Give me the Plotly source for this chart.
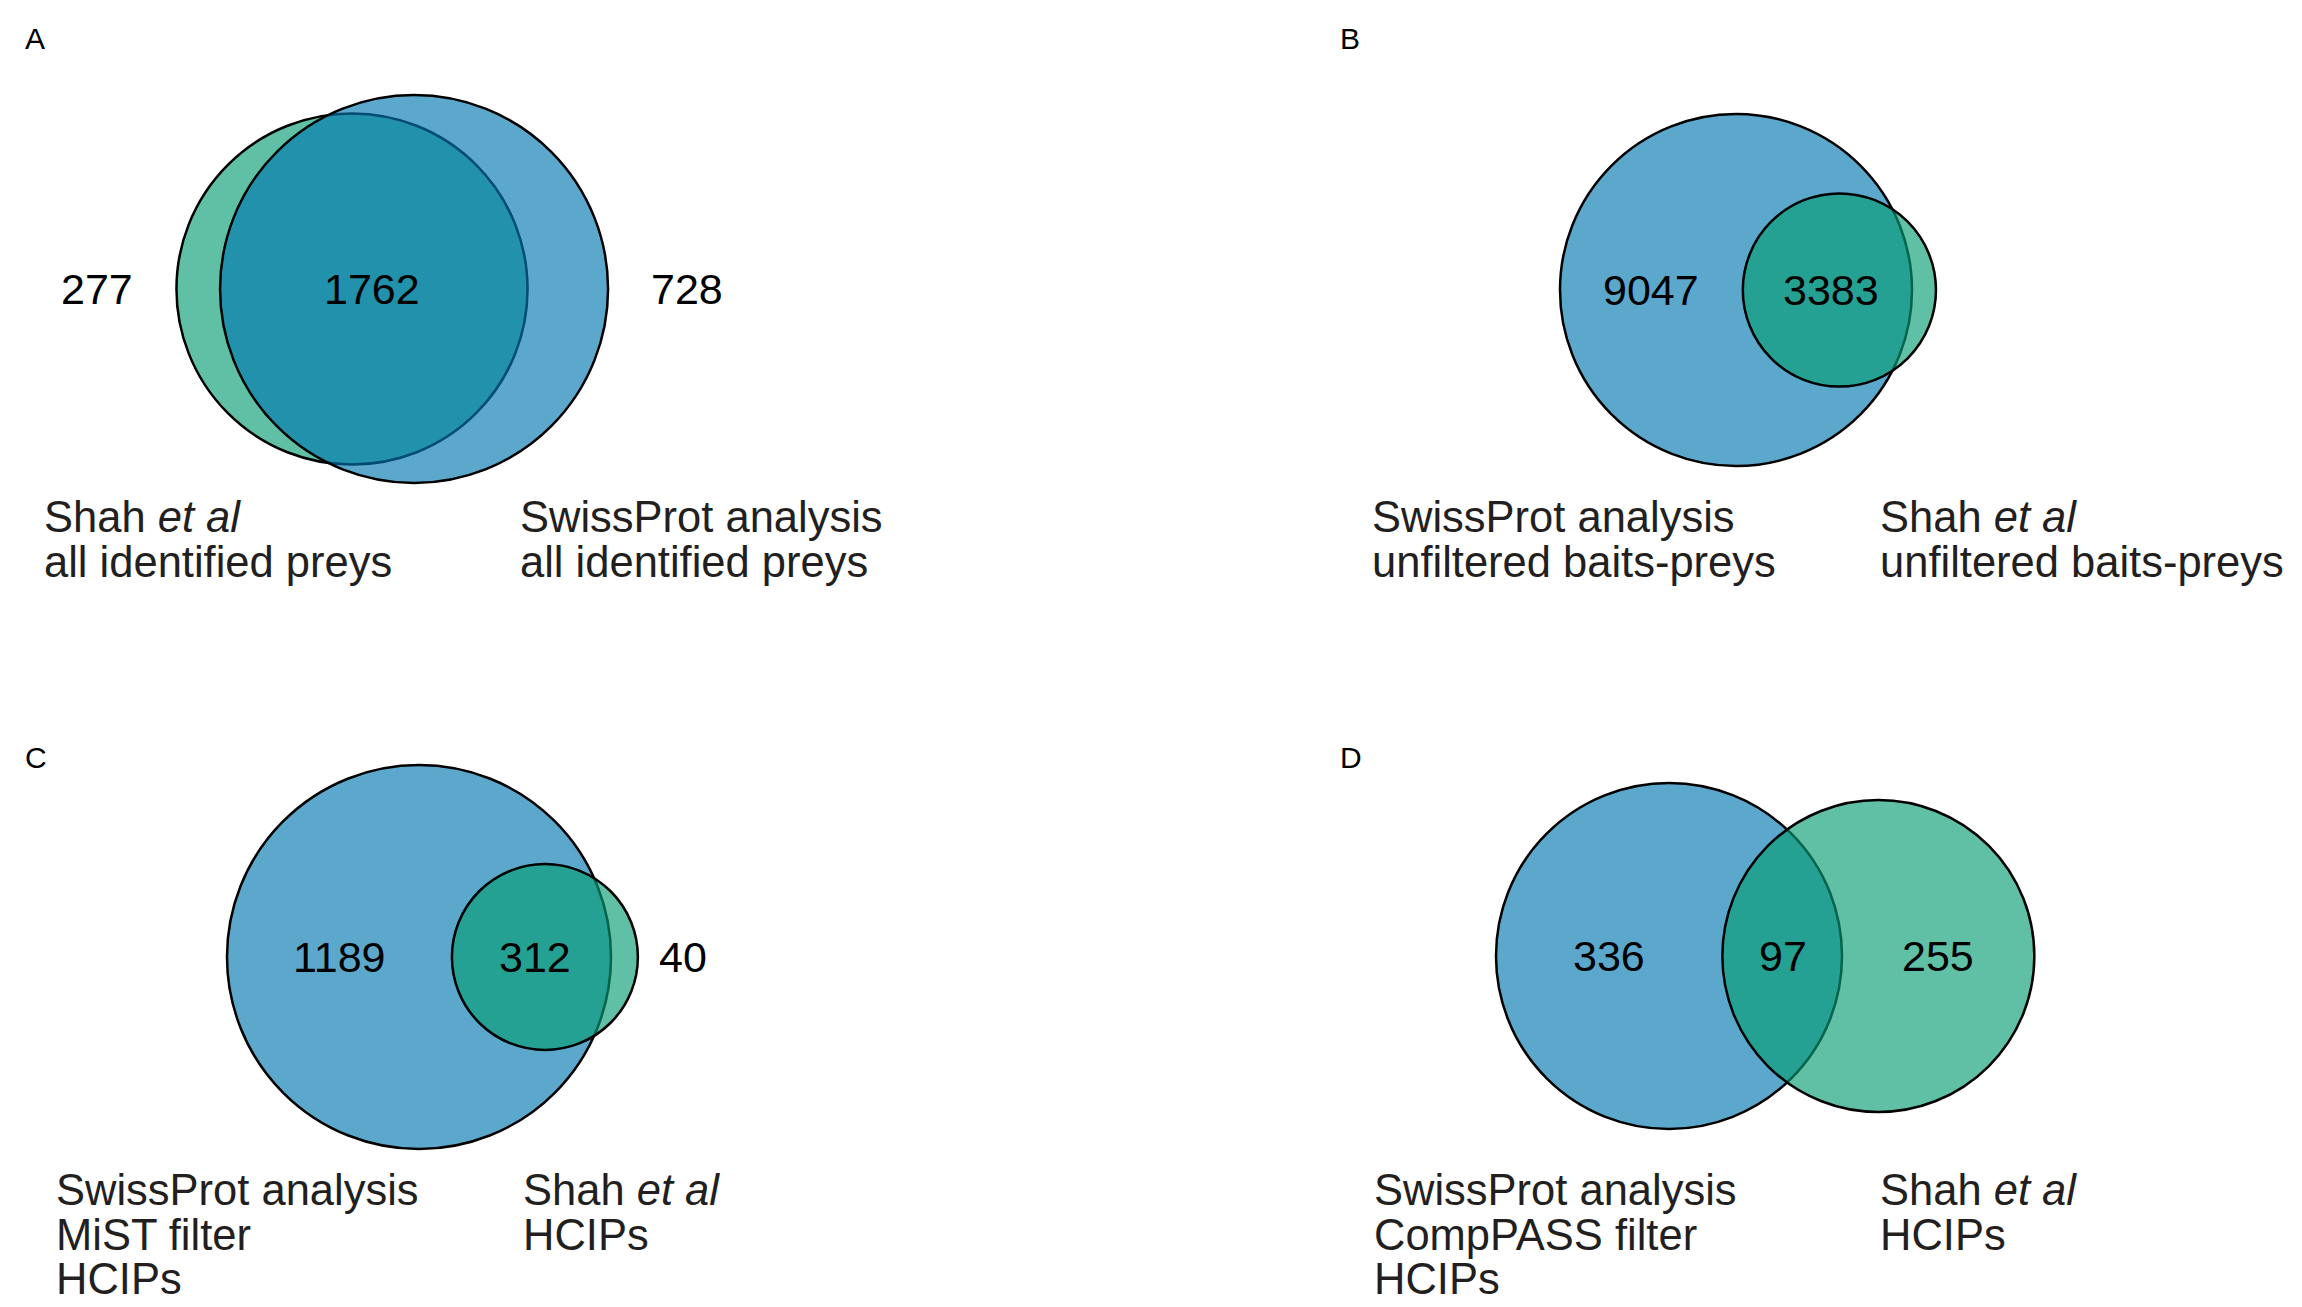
import math
import plotly.graph_objects as go

# ---------------- data ----------------
panels = ["A", "B", "C", "D"]
first_set = ["Shah", "SwissProt", "SwissProt", "SwissProt"]
second_set = ["SwissProt", "Shah", "Shah", "Shah"]
only_first = [277, 9047, 1189, 336]
both = [1762, 3383, 312, 97]
only_second = [728, 360, 40, 255]          # B: estimated from circle size, not printed in the original
show_only_second = [True, False, True, True]
first_labels = [
    ["Shah <i>et al</i>", "all identified preys"],
    ["SwissProt analysis", "unfiltered baits-preys"],
    ["SwissProt analysis", "MiST filter", "HCIPs"],
    ["SwissProt analysis", "CompPASS filter", "HCIPs"],
]
second_labels = [
    ["SwissProt analysis", "all identified preys"],
    ["Shah <i>et al</i>", "unfiltered baits-preys"],
    ["Shah <i>et al</i>", "HCIPs"],
    ["Shah <i>et al</i>", "HCIPs"],
]

# ---------------- layout / style ----------------
W, H = 2302, 1307
FONT = "Liberation Sans, Arial, Helvetica, sans-serif"
FILL = {"SwissProt": "rgba(0,119,175,0.64)", "Shah": "rgba(7,157,114,0.64)"}
LAYOUT = {
    # cx/cy: centre of first circle, rbig: radius of the larger circle (px)
    "A": dict(cx=352, cy=289, rbig=194, mode=("out", "out"), gap=41,
              letter=(23, 38), lab_x=(42, 518), lab_y=517),
    "B": dict(cx=1736, cy=290, rbig=176, mode=("in", "in"), gap=30,
              letter=(1338, 38), lab_x=(1370, 1878), lab_y=517),
    "C": dict(cx=419, cy=957, rbig=192, mode=("in", "out"), gap=19,
              letter=(23, 757), lab_x=(54, 521), lab_y=1190),
    "D": dict(cx=1669, cy=956, rbig=173, mode=("in", "in"), gap=30,
              letter=(1338, 757), lab_x=(1372, 1878), lab_y=1190),
}
LINE_PITCH = 44.5
NUM_SIZE = 43
LAB_SIZE = 43.5
LETTER_SIZE = 30


def lens_area(r1, r2, d):
    if d >= r1 + r2:
        return 0.0
    if d <= abs(r1 - r2):
        return math.pi * min(r1, r2) ** 2
    a1 = r1 * r1 * math.acos((d * d + r1 * r1 - r2 * r2) / (2 * d * r1))
    a2 = r2 * r2 * math.acos((d * d + r2 * r2 - r1 * r1) / (2 * d * r2))
    k = 0.5 * math.sqrt((-d + r1 + r2) * (d + r1 - r2) * (d - r1 + r2) * (d + r1 + r2))
    return a1 + a2 - k


def solve_distance(r1, r2, target):
    lo, hi = abs(r1 - r2) + 1e-6, r1 + r2
    for _ in range(200):
        mid = 0.5 * (lo + hi)
        if lens_area(r1, r2, mid) > target:
            lo = mid
        else:
            hi = mid
    return 0.5 * (lo + hi)


def lens_centroid_x(c1, r1, c2, r2):
    a, b = max(c1 - r1, c2 - r2), min(c1 + r1, c2 + r2)
    n = 4000
    num = den = 0.0
    for j in range(n):
        x = a + (j + 0.5) * (b - a) / n
        h1 = math.sqrt(max(r1 * r1 - (x - c1) ** 2, 0.0))
        h2 = math.sqrt(max(r2 * r2 - (x - c2) ** 2, 0.0))
        h = min(h1, h2)
        num += x * h
        den += h
    return num / den


fig = go.Figure()
fig.add_trace(go.Scatter(x=[], y=[], mode="markers", showlegend=False, hoverinfo="skip"))

shapes, annotations = [], []

for i, p in enumerate(panels):
    L = LAYOUT[p]
    n1 = only_first[i] + both[i]
    n2 = only_second[i] + both[i]
    nbig = max(n1, n2)
    unit = math.pi * L["rbig"] ** 2 / nbig          # px^2 per count
    r1 = math.sqrt(n1 * unit / math.pi)
    r2 = math.sqrt(n2 * unit / math.pi)
    d = solve_distance(r1, r2, both[i] * unit)
    c1 = L["cx"]
    c2 = c1 + d
    cy = L["cy"]

    for name, c, r in ((first_set[i], c1, r1), (second_set[i], c2, r2)):
        shapes.append(dict(type="circle", xref="x", yref="y",
                           x0=c - r, x1=c + r, y0=cy - r, y1=cy + r,
                           fillcolor=FILL[name], line=dict(color="black", width=2.5),
                           layer="above"))

    L1, R1 = c1 - r1, c1 + r1
    L2, R2 = c2 - r2, c2 + r2
    numfont = dict(family=FONT, size=NUM_SIZE, color="black")

    # only-first region
    if L["mode"][0] == "in":
        annotations.append(dict(x=(L1 + L2) / 2, y=cy, text=str(only_first[i]),
                                xanchor="center", font=numfont))
    else:
        annotations.append(dict(x=L1 - L["gap"], y=cy, text=str(only_first[i]),
                                xanchor="right", font=numfont))
    # intersection (at the area centroid of the lens)
    annotations.append(dict(x=lens_centroid_x(c1, r1, c2, r2), y=cy, text=str(both[i]),
                            xanchor="center", font=numfont))
    # only-second region
    if show_only_second[i]:
        if L["mode"][1] == "in":
            annotations.append(dict(x=(R1 + R2) / 2, y=cy, text=str(only_second[i]),
                                    xanchor="center", font=numfont))
        else:
            annotations.append(dict(x=max(R1, R2) + L["gap"], y=cy, text=str(only_second[i]),
                                    xanchor="left", font=numfont))

    # category labels
    labfont = dict(family=FONT, size=LAB_SIZE, color="#231F20")
    for lx, lines in zip(L["lab_x"], (first_labels[i], second_labels[i])):
        for k, line in enumerate(lines):
            annotations.append(dict(x=lx, y=L["lab_y"] + k * LINE_PITCH, text=line,
                                    xanchor="left", font=labfont))

    # panel letter
    annotations.append(dict(x=L["letter"][0], y=L["letter"][1], text=p, xanchor="left",
                            font=dict(family=FONT, size=LETTER_SIZE, color="black")))

for a in annotations:
    a.update(xref="x", yref="y", yanchor="middle", showarrow=False)

fig.update_layout(
    width=W, height=H,
    margin=dict(l=0, r=0, t=0, b=0, pad=0),
    paper_bgcolor="white", plot_bgcolor="white",
    xaxis=dict(range=[0, W], visible=False, fixedrange=True),
    yaxis=dict(range=[H, 0], visible=False, fixedrange=True),
    shapes=shapes, annotations=annotations, showlegend=False,
)

fig.write_html(
    "out.html",
    config={"displayModeBar": False},
    post_script="document.body.style.margin='0px';document.body.style.overflow='hidden';",
)
